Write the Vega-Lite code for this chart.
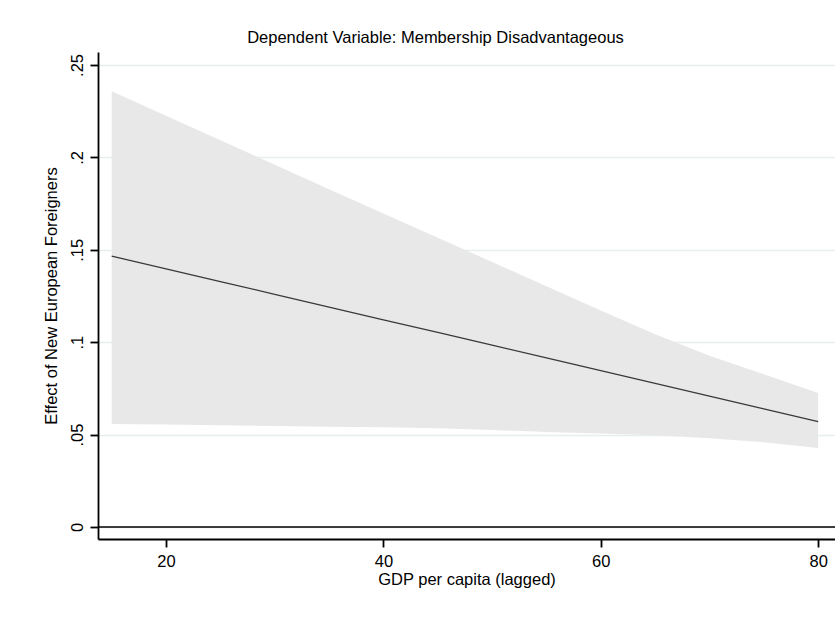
{
  "$schema": "https://vega.github.io/schema/vega-lite/v6.json",
  "width": 737,
  "height": 487,
  "autosize": {"type": "none"},
  "padding": {"left": 98, "top": 52, "right": 0, "bottom": 78},
  "background": "white",
  "config": {"view": {"stroke": null}, "font": "Liberation Sans"},
  "title": {
    "text": "Dependent Variable: Membership Disadvantageous",
    "fontSize": 16.5,
    "fontWeight": "normal",
    "font": "Liberation Sans",
    "color": "black",
    "anchor": "middle",
    "dx": -31,
    "dy": 16,
    "baseline": "alphabetic",
    "offset": 9
  },
  "data": {
    "values": [
      {"gdp": 15, "effect": 0.1466, "lo": 0.0557, "hi": 0.2357},
      {"gdp": 20, "effect": 0.1397, "lo": 0.0554, "hi": 0.2225},
      {"gdp": 25, "effect": 0.1328, "lo": 0.0550, "hi": 0.2093},
      {"gdp": 30, "effect": 0.1259, "lo": 0.0546, "hi": 0.1960},
      {"gdp": 35, "effect": 0.1190, "lo": 0.0543, "hi": 0.1828},
      {"gdp": 40, "effect": 0.1121, "lo": 0.0540, "hi": 0.1696},
      {"gdp": 45, "effect": 0.1053, "lo": 0.0534, "hi": 0.1565},
      {"gdp": 50, "effect": 0.0984, "lo": 0.0525, "hi": 0.1434},
      {"gdp": 55, "effect": 0.0915, "lo": 0.0514, "hi": 0.1303},
      {"gdp": 60, "effect": 0.0846, "lo": 0.0506, "hi": 0.1172},
      {"gdp": 65, "effect": 0.0777, "lo": 0.0496, "hi": 0.1043},
      {"gdp": 70, "effect": 0.0708, "lo": 0.0480, "hi": 0.0927},
      {"gdp": 75, "effect": 0.0639, "lo": 0.0458, "hi": 0.0826},
      {"gdp": 80, "effect": 0.0570, "lo": 0.0427, "hi": 0.0725}
    ]
  },
  "layer": [
    {
      "mark": {"type": "area", "color": "#e8e8e8", "opacity": 1},
      "encoding": {
        "x": {
          "field": "gdp",
          "type": "quantitative",
          "scale": {"domain": [13.74, 81.55], "nice": false, "zero": false},
          "axis": {
            "title": "GDP per capita (lagged)",
            "values": [20, 40, 60, 80],
            "format": "d",
            "grid": false,
            "tickSize": 8,
            "tickWidth": 1.8,
            "tickColor": "black",
            "domainColor": "black",
            "domainWidth": 1.8,
            "labelFontSize": 16.5,
            "labelColor": "black",
            "labelPadding": 6,
            "labelFlush": false,
            "titleFontSize": 16.5,
            "titleFontWeight": "normal",
            "titleColor": "black",
            "titlePadding": 2
          }
        },
        "y": {
          "field": "lo",
          "type": "quantitative",
          "scale": {"domain": [-0.0065, 0.257], "nice": false, "zero": false},
          "axis": {
            "title": "Effect of New European Foreigners",
            "values": [0, 0.05, 0.1, 0.15, 0.2, 0.25],
            "labelExpr": "datum.value == 0 ? '0' : replace(format(datum.value, '.2~f'), '0.', '.')",
            "labelAngle": -90,
            "labelAlign": "center",
            "labelBaseline": "alphabetic",
            "labelPadding": 8,
            "labelFlush": false,
            "labelOverlap": false,
            "tickSize": 8,
            "tickWidth": 1.8,
            "tickColor": "black",
            "domainColor": "black",
            "domainWidth": 1.8,
            "grid": true,
            "gridColor": "#e6eef0",
            "gridWidth": 1.5,
            "labelFontSize": 16.5,
            "labelColor": "black",
            "titleFontSize": 16.5,
            "titleFontWeight": "normal",
            "titleColor": "black",
            "titlePadding": 10
          }
        },
        "y2": {"field": "hi"}
      }
    },
    {
      "data": {"values": [{"ref": 0}]},
      "mark": {"type": "rule", "color": "black", "strokeWidth": 1.5},
      "encoding": {"y": {"field": "ref", "type": "quantitative"}}
    },
    {
      "mark": {"type": "line", "color": "#3a3a3a", "strokeWidth": 1.3},
      "encoding": {
        "x": {"field": "gdp", "type": "quantitative"},
        "y": {"field": "effect", "type": "quantitative"}
      }
    }
  ]
}
